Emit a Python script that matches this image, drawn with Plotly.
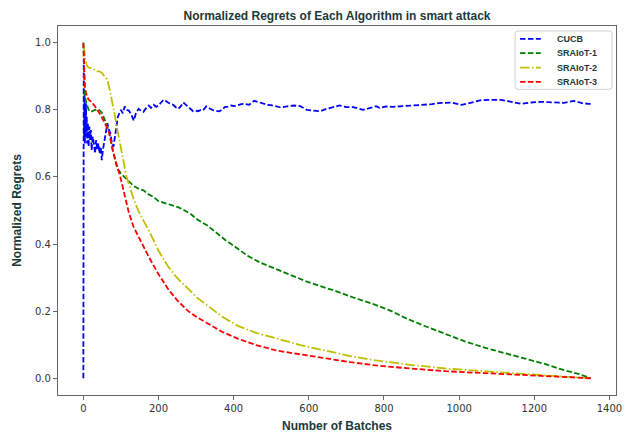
import plotly.graph_objects as go

# ---------------- data ----------------
cucb_x = [0, 1, 2, 3, 4, 5, 6, 7, 8, 9, 10, 12, 14, 16, 18, 20, 22, 25, 28, 31, 34, 37, 40, 43, 46, 49,
          52, 55, 60, 64, 68, 72, 76, 80, 84, 88, 92, 96, 100, 105, 110, 115, 121, 128, 134, 140, 147,
          154, 160, 167, 174, 180, 187, 194, 200, 207, 213, 220, 226, 233, 239, 246, 253, 260, 266, 273,
          279, 285, 292, 299, 305, 312, 318, 327, 336, 345, 354, 362, 370, 376, 385, 393, 402, 411, 420,
          428, 441, 455, 463, 472, 481, 490, 499, 507, 516, 525, 533, 542, 551, 560, 577, 595, 604, 612,
          621, 630, 647, 665, 682, 700, 718, 735, 744, 761, 779, 788, 805, 823, 840, 866, 893, 910, 928,
          945, 963, 980, 1007, 1033, 1060, 1086, 1112, 1139, 1165, 1191, 1218, 1235, 1253, 1279, 1305,
          1327, 1345, 1350]
cucb_y = [0.0, 0.95, 0.72, 0.85, 0.70, 0.80, 0.74, 0.82, 0.72, 0.78, 0.70, 0.76, 0.69, 0.75, 0.71, 0.74,
          0.68, 0.72, 0.70, 0.67, 0.71, 0.68, 0.70, 0.67, 0.69, 0.65, 0.68, 0.70, 0.74, 0.76, 0.74, 0.73,
          0.70, 0.69, 0.72, 0.76, 0.78, 0.79, 0.80, 0.79, 0.81, 0.80, 0.798, 0.785, 0.768, 0.79, 0.803,
          0.797, 0.794, 0.805, 0.813, 0.806, 0.815, 0.809, 0.813, 0.822, 0.830, 0.826, 0.821, 0.818, 0.815,
          0.808, 0.803, 0.812, 0.822, 0.815, 0.808, 0.802, 0.796, 0.798, 0.796, 0.799, 0.798, 0.810, 0.804,
          0.799, 0.797, 0.796, 0.801, 0.808, 0.810, 0.813, 0.811, 0.815, 0.817, 0.818, 0.815, 0.827, 0.824,
          0.822, 0.818, 0.815, 0.814, 0.813, 0.810, 0.807, 0.809, 0.811, 0.812, 0.813, 0.811, 0.800, 0.799,
          0.798, 0.797, 0.796, 0.803, 0.808, 0.813, 0.808, 0.808, 0.803, 0.800, 0.805, 0.811, 0.806, 0.810,
          0.809, 0.810, 0.812, 0.814, 0.815, 0.817, 0.820, 0.821, 0.822, 0.815, 0.822, 0.829, 0.830, 0.830,
          0.824, 0.818, 0.822, 0.824, 0.823, 0.823, 0.821, 0.827, 0.820, 0.818, 0.818]

sra1_x = [0, 2, 4, 8, 14, 20, 30, 42, 50, 59, 68, 77, 90, 100, 112, 121, 134, 147, 160, 174, 187, 200,
          218, 235, 252, 270, 285, 305, 330, 358, 380, 400, 437, 470, 516, 555, 595, 635, 674, 720, 779,
          820, 858, 910, 963, 1015, 1068, 1120, 1174, 1230, 1279, 1320, 1350]
sra1_y = [1.0, 0.90, 0.842, 0.82, 0.80, 0.794, 0.80, 0.80, 0.79, 0.765, 0.735, 0.685, 0.626, 0.61, 0.597,
          0.59, 0.573, 0.565, 0.56, 0.548, 0.54, 0.528, 0.522, 0.515, 0.51, 0.50, 0.49, 0.472, 0.455, 0.43,
          0.41, 0.395, 0.365, 0.345, 0.324, 0.305, 0.288, 0.273, 0.259, 0.24, 0.218, 0.20, 0.179, 0.155,
          0.132, 0.11, 0.091, 0.075, 0.059, 0.042, 0.024, 0.012, 0.0]

sra2_x = [0, 3, 6, 10, 16, 22, 29, 36, 42, 50, 56, 64, 70, 76, 82, 88, 95, 102, 108, 115, 125, 135, 150,
          165, 174, 200, 226, 250, 279, 305, 332, 370, 411, 460, 516, 580, 647, 710, 779, 870, 963, 1070,
          1174, 1260, 1350]
sra2_y = [0.99, 0.975, 0.945, 0.93, 0.925, 0.925, 0.92, 0.915, 0.915, 0.91, 0.90, 0.89, 0.86, 0.83, 0.794,
          0.755, 0.715, 0.67, 0.63, 0.60, 0.565, 0.53, 0.49, 0.46, 0.441, 0.38, 0.332, 0.298, 0.265, 0.238,
          0.215, 0.183, 0.156, 0.135, 0.118, 0.098, 0.082, 0.066, 0.053, 0.04, 0.029, 0.02, 0.012, 0.006, 0.0]

sra3_x = [0, 2, 4, 7, 10, 14, 20, 28, 37, 46, 55, 62, 68, 74, 79, 89, 99, 110, 121, 134, 147, 160, 174,
          200, 226, 250, 279, 305, 332, 370, 411, 460, 516, 580, 647, 710, 779, 870, 963, 1070, 1174, 1260,
          1350]
sra3_y = [1.0, 0.93, 0.87, 0.85, 0.84, 0.83, 0.825, 0.815, 0.80, 0.785, 0.765, 0.75, 0.735, 0.705, 0.676,
          0.635, 0.597, 0.545, 0.494, 0.45, 0.42, 0.39, 0.362, 0.31, 0.265, 0.232, 0.20, 0.18, 0.162, 0.138,
          0.118, 0.099, 0.082, 0.07, 0.059, 0.048, 0.038, 0.029, 0.021, 0.015, 0.009, 0.005, 0.0]

names = ["CUCB", "SRAIoT-1", "SRAIoT-2", "SRAIoT-3"]
colors = ["#0000ff", "#008000", "#bfbf00", "#ff0000"]
x_ticks = [0, 200, 400, 600, 800, 1000, 1200, 1400]
y_ticks = [0.0, 0.2, 0.4, 0.6, 0.8, 1.0]

title_text = "Normalized Regrets of Each Algorithm in smart attack"
x_label = "Number of Batches"
y_label = "Normalized Regrets"

# ---------------- figure ----------------
W, H = 628, 436
ML, MR, MT, MB = 58, 6, 26, 37
PW, PH = W - ML - MR, H - MT - MB
LW = 1.8

DASH = "5.5px,2.4px"
DASHDOT = "9.6px,2.4px,1.5px,2.4px"
series = [(cucb_x, cucb_y, DASH), (sra1_x, sra1_y, DASH), (sra2_x, sra2_y, DASHDOT), (sra3_x, sra3_y, DASH)]
dashes = [s[2] for s in series]

fig = go.Figure()
for (xs, ys, dash), name, col in zip(series, names, colors):
    fig.add_trace(go.Scatter(x=xs, y=ys, mode="lines", name=name, showlegend=False,
                             line=dict(color=col, width=LW, dash=dash)))

teal = "#1b3a3a"
axis_common = dict(showline=True, mirror=True, linecolor="#666666", linewidth=1.2,
                   ticks="outside", ticklen=4, tickwidth=1, tickcolor="#666666",
                   showgrid=False, zeroline=False,
                   tickfont=dict(family="DejaVu Sans", size=10, color="#333333"))


def px_x(px):
    return (px - ML) / PW


def px_y(py):
    return 1 - (py - MT) / PH


# custom legend (matplotlib-like compact box)
bx0, bx1, by0, by1 = px_x(520), px_x(618), px_y(90), px_y(31)
rx, ry = 3 / PW, 3 / PH
legend_path = (f"M {bx0+rx},{by1} L {bx1-rx},{by1} Q {bx1},{by1} {bx1},{by1-ry} "
               f"L {bx1},{by0+ry} Q {bx1},{by0} {bx1-rx},{by0} L {bx0+rx},{by0} "
               f"Q {bx0},{by0} {bx0},{by0+ry} L {bx0},{by1-ry} Q {bx0},{by1} {bx0+rx},{by1} Z")
shapes = [dict(type="path", xref="paper", yref="paper", path=legend_path,
               line=dict(color="#d0d0d0", width=1), fillcolor="rgba(255,255,255,0.85)", layer="above")]
annotations = []
row_py = [39, 53.5, 68, 82.5]
for name, col, dash, py in zip(names, colors, dashes, row_py):
    shapes.append(dict(type="line", xref="paper", yref="paper", x0=px_x(525), x1=px_x(546),
                       y0=px_y(py), y1=px_y(py), line=dict(color=col, width=LW, dash=dash), layer="above"))
    annotations.append(dict(text=name, xref="paper", yref="paper", x=px_x(560), y=px_y(py),
                            xanchor="left", yanchor="middle", showarrow=False,
                            font=dict(family="Liberation Sans", size=9, color=teal, weight="bold")))

fig.update_layout(
    width=W, height=H,
    margin=dict(l=ML, r=MR, t=MT, b=MB),
    paper_bgcolor="white", plot_bgcolor="white",
    title=dict(text=title_text, x=0.5, xref="paper", y=0.963, yanchor="middle",
               font=dict(family="Liberation Sans", size=12, color=teal, weight="bold")),
    xaxis=dict(range=[-67.5, 1417.5], tickvals=x_ticks, **axis_common,
               title=dict(text=x_label, standoff=8,
                          font=dict(family="Liberation Sans", size=12, color=teal, weight="bold"))),
    yaxis=dict(range=[-0.05, 1.05], tickvals=y_ticks, tickformat=".1f", **axis_common,
               title=dict(text=y_label, standoff=10,
                          font=dict(family="Liberation Sans", size=12, color=teal, weight="bold"))),
    shapes=shapes,
    annotations=annotations,
    showlegend=False,
)

fig.write_html("out.html")
